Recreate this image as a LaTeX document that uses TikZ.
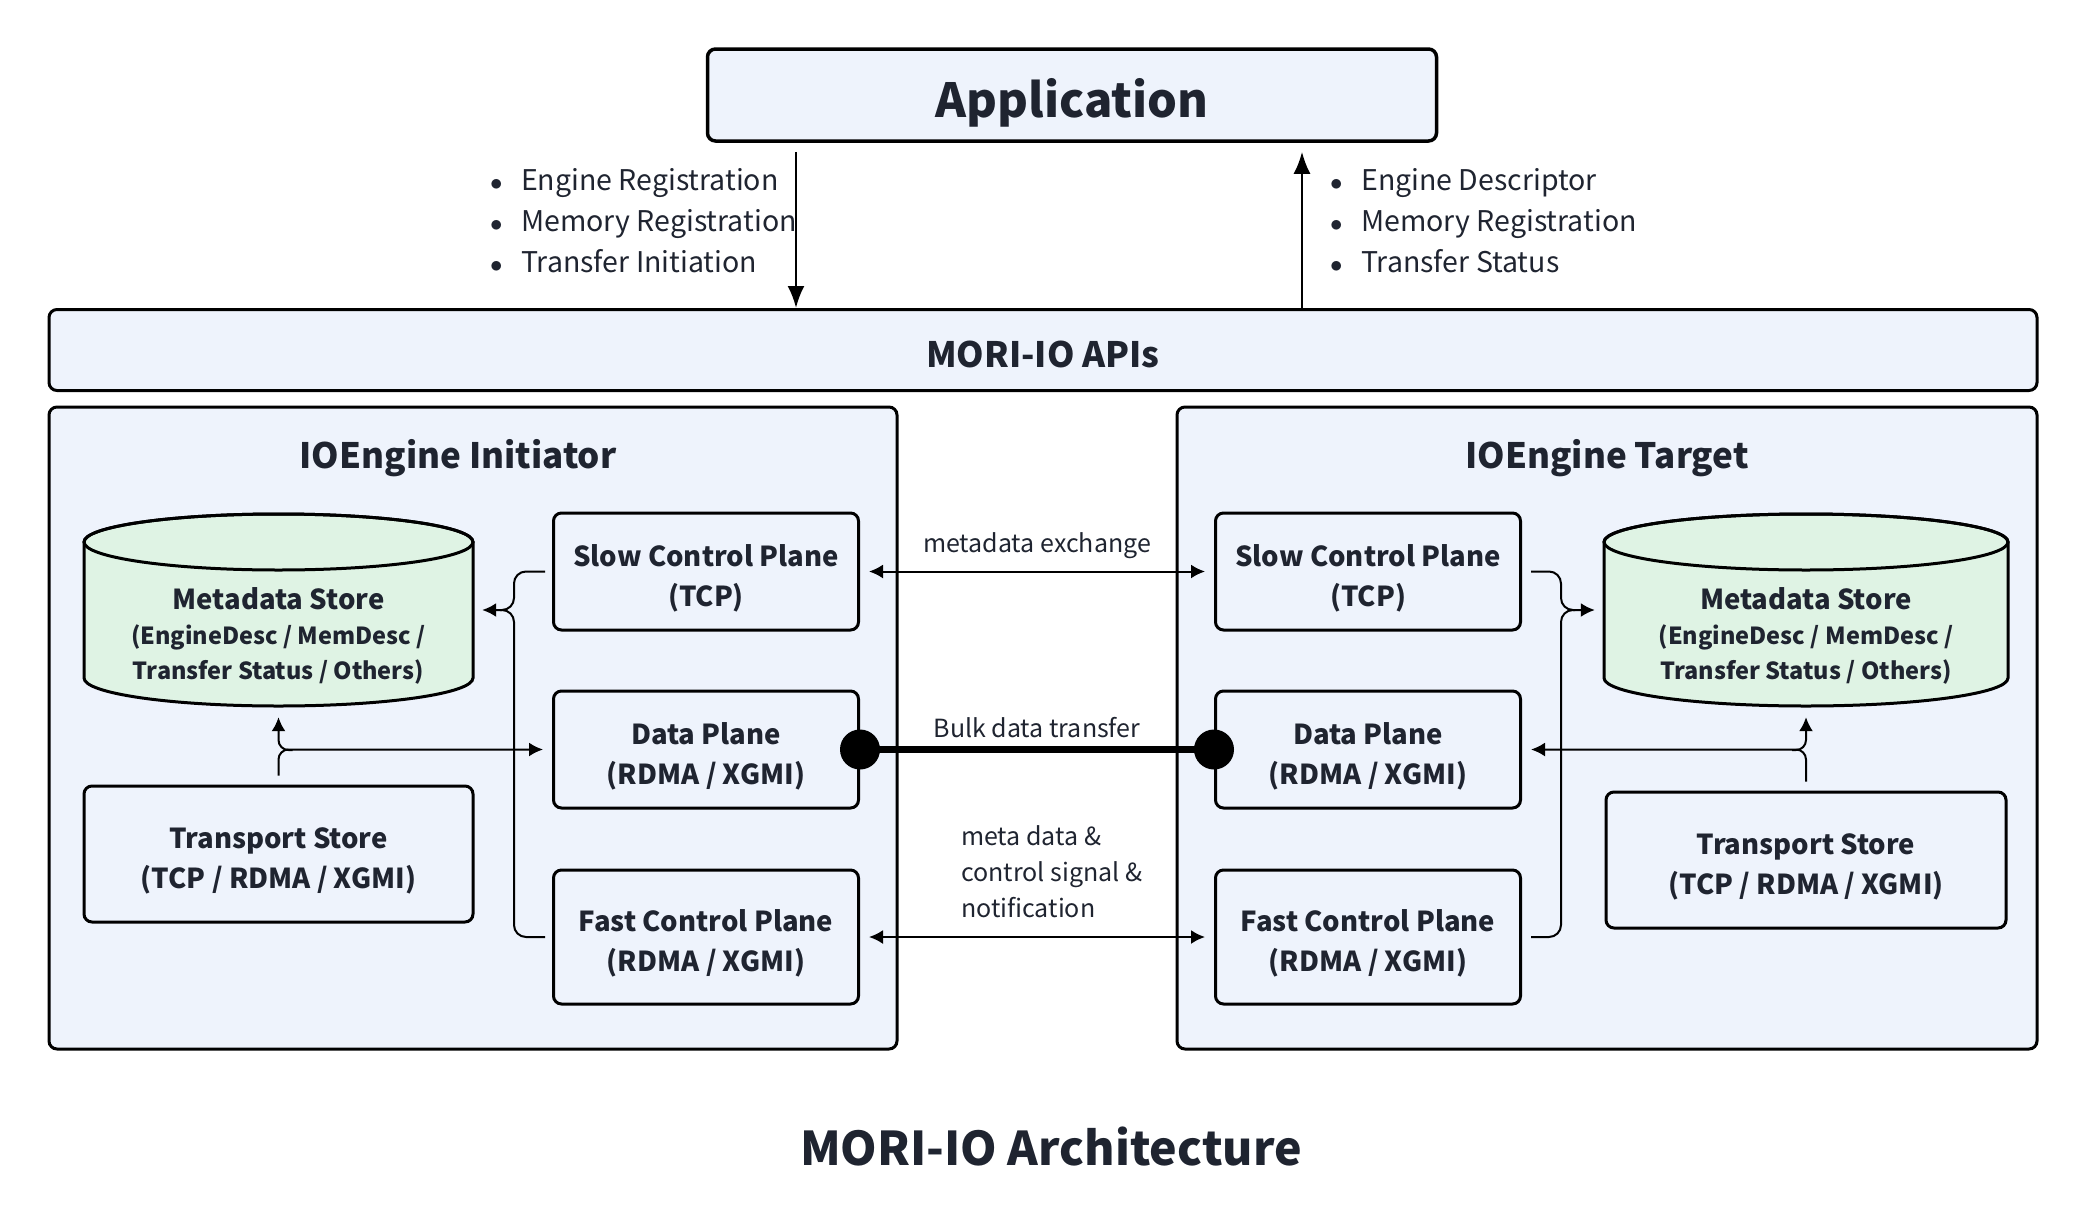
\documentclass[tikz,border=0pt]{standalone}
\usepackage{fontspec}
\setmainfont{Noto Sans CJK SC}
\usetikzlibrary{arrows.meta}

\definecolor{boxfill}{HTML}{EEF3FC}
\definecolor{storefill}{HTML}{DFF3E4}
\definecolor{ink}{HTML}{1F2430}

\newcommand{\itm}{\makebox[31pt][l]{$\bullet$}}

\begin{document}
\begin{tikzpicture}[x=1pt,y=-1pt,
  box/.style={draw, line width=3pt, rounded corners=8pt, fill=boxfill, text=ink, align=center, inner sep=0pt},
  btext/.style={text=ink, align=center, font=\bfseries\fontsize{27.5}{40}\selectfont, yshift=-6.5pt},
  plane/.style={box, minimum width=305pt},
  tstore/.style={box, minimum height=136pt},
  engtitle/.style={text=ink, font=\bfseries\fontsize{35}{44}\selectfont},
  store/.style={fill=storefill, draw, line width=3pt},
  storetext/.style={text=ink, align=center, font=\bfseries\fontsize{23.5}{35}\selectfont},
  notes/.style={text=ink, align=left, anchor=west, inner sep=0pt, font=\fontsize{28.5}{41}\selectfont},
  lbl/.style={text=ink, font=\fontsize{25}{36}\selectfont},
  link/.style={line width=2pt, -{Latex[length=14pt,width=14pt]}},
  dlink/.style={line width=2pt, {Latex[length=14pt,width=14pt]}-{Latex[length=14pt,width=14pt]}},
  bigarrow/.style={line width=2.5pt, -{Latex[length=22pt,width=17pt]}}]
 \useasboundingbox (0,0) rectangle (2088,1226);

 % top
 \node[box, line width=3.5pt, minimum width=729pt, minimum height=92pt,
   label={[btext, font=\bfseries\fontsize{47}{54}\selectfont, yshift=-1.5pt]center:Application}] (app) at (1072,95) {};
 \node[box, minimum width=1988pt, minimum height=81pt,
   label={[btext, font=\bfseries\fontsize{35}{44}\selectfont, yshift=2.5pt]center:MORI-IO APIs}] (apis) at (1043,350) {};
 \coordinate (dn) at (796,0);
 \coordinate (up) at (1302,0);
 \draw[bigarrow, shorten <=9pt] (app.south -| dn) -- (apis.north -| dn);
 \draw[bigarrow, shorten >=9pt] (apis.north -| up) -- (app.south -| up);
 \node[notes] (lnotes) at (490,221) {\itm Engine Registration\\\itm Memory Registration\\\itm Transfer Initiation};
 \node[notes] (rnotes) at (1330,221) {\itm Engine Descriptor\\\itm Memory Registration\\\itm Transfer Status};

 % engines
 \node[box, minimum width=848pt, minimum height=642pt] (init) at (473,728) {};
 \node[box, minimum width=860pt, minimum height=642pt] (targ) at (1607,728) {};
 \node[engtitle] (initlbl) at (458,458) {IOEngine Initiator};
 \node[engtitle] (targlbl) at (1607,458) {IOEngine Target};

 % metadata stores
 \filldraw[store] (84,542) -- (84,678) arc[start angle=180, end angle=0, x radius=194.5, y radius=28] -- (473,542) arc[start angle=0, end angle=-180, x radius=194.5, y radius=28] -- cycle;
 \draw[line width=3pt] (278.5,542) ellipse [x radius=194.5, y radius=28];
 \filldraw[store] (1604,542) -- (1604,678) arc[start angle=180, end angle=0, x radius=202, y radius=28] -- (2008,542) arc[start angle=0, end angle=-180, x radius=202, y radius=28] -- cycle;
 \draw[line width=3pt] (1806,542) ellipse [x radius=202, y radius=28];
 \node[minimum width=389pt, minimum height=192pt, inner sep=0pt] (lmeta) at (278.5,610) {};
 \node[minimum width=404pt, minimum height=192pt, inner sep=0pt] (rmeta) at (1806,610) {};
 \node[storetext] (lmetatxt) at (278.5,636) {{\fontsize{27.5}{35}\selectfont Metadata Store}\\(EngineDesc / MemDesc /\\Transfer Status / Others)};
 \node[storetext] (rmetatxt) at (1806,636) {{\fontsize{27.5}{35}\selectfont Metadata Store}\\(EngineDesc / MemDesc /\\Transfer Status / Others)};

 % transport stores
 \node[tstore, minimum width=389pt, label={[btext]center:{Transport Store\\(TCP / RDMA / XGMI)}}] (ltrans) at (278.5,854) {};
 \node[tstore, minimum width=400pt, label={[btext]center:{Transport Store\\(TCP / RDMA / XGMI)}}] (rtrans) at (1806,860) {};

 % planes
 \node[plane, minimum height=117pt, label={[btext]center:{Slow Control Plane\\(TCP)}}] (lslow) at (706,571.5) {};
 \node[plane, minimum height=117pt, label={[btext]center:{Data Plane\\(RDMA / XGMI)}}] (ldata) at (706,749.5) {};
 \node[plane, minimum height=134pt, label={[btext]center:{Fast Control Plane\\(RDMA / XGMI)}}] (lfast) at (706,937) {};
 \node[plane, minimum height=117pt, label={[btext]center:{Slow Control Plane\\(TCP)}}] (rslow) at (1368,571.5) {};
 \node[plane, minimum height=117pt, label={[btext]center:{Data Plane\\(RDMA / XGMI)}}] (rdata) at (1368,749.5) {};
 \node[plane, minimum height=134pt, label={[btext]center:{Fast Control Plane\\(RDMA / XGMI)}}] (rfast) at (1368,937) {};

 % between engines
 \draw[dlink, shorten <=9pt, shorten >=9pt] (lslow.east) -- (rslow.west) node[lbl, midway, yshift=26pt] {metadata exchange};
 \draw[line width=7pt] (ldata.east) -- (rdata.west) node[lbl, midway, yshift=22pt] {Bulk data transfer};
 \fill (ldata.east) circle (20);
 \fill (rdata.west) circle (20);
 \draw[dlink, shorten <=9pt, shorten >=9pt] (lfast.east) -- (rfast.west);
 \node[lbl, align=left, anchor=west, inner sep=0pt] (fastlbl) at (961,872) {meta data \&\\control signal \&\\notification};

 % inside initiator
 \coordinate (lbr) at (514,610);
 \draw[link, rounded corners=12pt, shorten >=9pt] ([xshift=-7pt]lslow.west) -| (lbr) -- (lmeta.east);
 \draw[line width=2pt, rounded corners=12pt] ([xshift=-7pt]lfast.west) -| (lbr) -- ++(-14,0);
 \coordinate (ltj) at (278.5,750);
 \draw[link, rounded corners=10pt, shorten >=9pt] ([yshift=9pt]ltrans.north) |- (ldata.west);
 \draw[link, rounded corners=10pt, shorten >=11pt] ([xshift=14pt]ltj) -| (lmeta.south);

 % inside target
 \coordinate (rbr) at (1561,610);
 \draw[link, rounded corners=12pt, shorten >=9pt] ([xshift=9pt]rslow.east) -| (rbr) -- (rmeta.west);
 \draw[line width=2pt, rounded corners=12pt] ([xshift=9pt]rfast.east) -| (rbr) -- ++(14,0);
 \coordinate (rtj) at (1806,750);
 \draw[link, rounded corners=10pt, shorten >=9pt] ([yshift=9pt]rtrans.north) |- (rdata.east);
 \draw[link, rounded corners=10pt, shorten >=11pt] ([xshift=-14pt]rtj) -| (rmeta.south);

 \node[text=ink, font=\bfseries\fontsize{46.5}{54}\selectfont] (title) at (1051,1146) {MORI-IO Architecture};
\end{tikzpicture}
\end{document}
